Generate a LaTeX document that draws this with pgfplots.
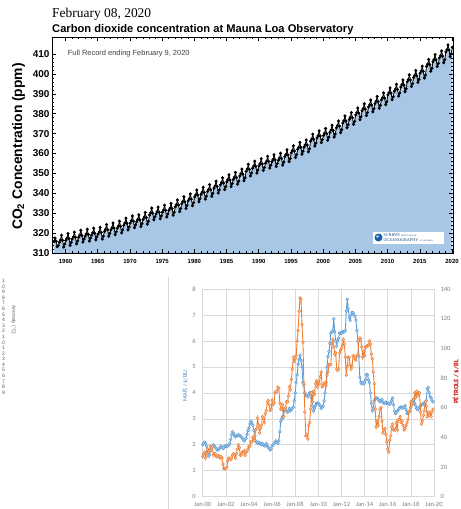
\documentclass[border=0pt]{standalone}
\usepackage{fontspec}
\setmainfont{Liberation Sans}
\newfontfamily\timesfont{Liberation Serif}
\newfontfamily\calibri{Carlito}
\usepackage{pgfplots}
\pgfplotsset{compat=1.18}
\usepackage{pgfplotstable}

\definecolor{co2fill}{RGB}{168,199,231}
\definecolor{mais}{RGB}{91,155,213}
\definecolor{petrole}{RGB}{237,125,49}
\definecolor{gridgray}{RGB}{217,217,217}
\definecolor{ticklab}{RGB}{125,125,125}
\definecolor{redlab}{RGB}{192,0,0}
\definecolor{scrippsblue}{RGB}{20,95,165}

% Mauna Loa CO2, ppm: Jan, Mar, May, Jul, Sep, Nov of each year from 1958
\pgfplotstableread[row sep=\\, header=false]{
nan\\ 315.8\\ 317.5\\ 315.9\\ 313.2\\ 313.8\\
315.4\\ 316.5\\ 318.9\\ 316.3\\ 313.0\\ 314.5\\
316.3\\ 317.4\\ 319.8\\ 317.2\\ 313.9\\ 315.4\\
317.0\\ 318.1\\ 320.5\\ 317.9\\ 314.6\\ 316.1\\
317.9\\ 319.0\\ 321.4\\ 318.8\\ 315.5\\ 317.0\\
318.4\\ 319.5\\ 321.9\\ 319.3\\ 316.0\\ 317.5\\
319.0\\ 320.1\\ 322.5\\ 319.9\\ 316.6\\ 318.1\\
319.4\\ 320.5\\ 322.9\\ 320.3\\ 317.0\\ 318.5\\
320.8\\ 321.9\\ 324.3\\ 321.7\\ 318.4\\ 319.9\\
321.6\\ 322.7\\ 325.1\\ 322.5\\ 319.2\\ 320.7\\
322.5\\ 323.6\\ 326.0\\ 323.4\\ 320.1\\ 321.6\\
324.0\\ 325.1\\ 327.5\\ 324.9\\ 321.6\\ 323.1\\
325.1\\ 326.2\\ 328.6\\ 326.0\\ 322.7\\ 324.2\\
325.7\\ 326.8\\ 329.2\\ 326.6\\ 323.3\\ 324.8\\
326.9\\ 328.0\\ 330.4\\ 327.8\\ 324.5\\ 326.0\\
329.1\\ 330.2\\ 332.6\\ 330.0\\ 326.7\\ 328.2\\
329.6\\ 330.7\\ 333.1\\ 330.5\\ 327.2\\ 328.7\\
330.5\\ 331.6\\ 334.0\\ 331.4\\ 328.1\\ 329.6\\
331.4\\ 332.5\\ 334.9\\ 332.3\\ 329.0\\ 330.5\\
333.2\\ 334.3\\ 336.7\\ 334.1\\ 330.8\\ 332.3\\
334.8\\ 335.9\\ 338.3\\ 335.7\\ 332.4\\ 333.9\\
336.2\\ 337.3\\ 339.7\\ 337.1\\ 333.8\\ 335.3\\
338.2\\ 339.3\\ 341.7\\ 339.1\\ 335.8\\ 337.3\\
339.5\\ 340.6\\ 343.0\\ 340.4\\ 337.1\\ 338.6\\
340.9\\ 342.0\\ 344.4\\ 341.8\\ 338.5\\ 340.0\\
342.6\\ 343.7\\ 346.1\\ 343.5\\ 340.2\\ 341.7\\
344.3\\ 345.4\\ 347.8\\ 345.2\\ 341.9\\ 343.4\\
345.8\\ 346.9\\ 349.3\\ 346.7\\ 343.4\\ 344.9\\
347.0\\ 348.1\\ 350.5\\ 347.9\\ 344.6\\ 346.1\\
348.7\\ 349.8\\ 352.2\\ 349.6\\ 346.3\\ 347.8\\
351.1\\ 352.2\\ 354.6\\ 352.0\\ 348.7\\ 350.2\\
352.6\\ 353.7\\ 356.1\\ 353.5\\ 350.2\\ 351.7\\
353.9\\ 355.0\\ 357.4\\ 354.8\\ 351.5\\ 353.0\\
355.1\\ 356.2\\ 358.6\\ 356.0\\ 352.7\\ 354.2\\
355.9\\ 357.0\\ 359.4\\ 356.8\\ 353.5\\ 355.0\\
356.6\\ 357.7\\ 360.1\\ 357.5\\ 354.2\\ 355.7\\
358.4\\ 359.5\\ 361.9\\ 359.3\\ 356.0\\ 357.5\\
360.4\\ 361.5\\ 363.9\\ 361.3\\ 358.0\\ 359.5\\
362.1\\ 363.2\\ 365.6\\ 363.0\\ 359.7\\ 361.2\\
363.3\\ 364.4\\ 366.8\\ 364.2\\ 360.9\\ 362.4\\
366.2\\ 367.3\\ 369.7\\ 367.1\\ 363.8\\ 365.3\\
367.9\\ 369.0\\ 371.4\\ 368.8\\ 365.5\\ 367.0\\
369.1\\ 370.2\\ 372.6\\ 370.0\\ 366.7\\ 368.2\\
370.7\\ 371.8\\ 374.2\\ 371.6\\ 368.3\\ 369.8\\
372.9\\ 374.0\\ 376.4\\ 373.8\\ 370.5\\ 372.0\\
375.4\\ 376.5\\ 378.9\\ 376.3\\ 373.0\\ 374.5\\
377.1\\ 378.2\\ 380.6\\ 378.0\\ 374.7\\ 376.2\\
379.4\\ 380.5\\ 382.9\\ 380.3\\ 377.0\\ 378.5\\
381.5\\ 382.6\\ 385.0\\ 382.4\\ 379.1\\ 380.6\\
383.4\\ 384.5\\ 386.9\\ 384.3\\ 381.0\\ 382.5\\
385.2\\ 386.3\\ 388.7\\ 386.1\\ 382.8\\ 384.3\\
387.0\\ 388.1\\ 390.5\\ 387.9\\ 384.6\\ 386.1\\
389.5\\ 390.6\\ 393.0\\ 390.4\\ 387.1\\ 388.6\\
391.3\\ 392.4\\ 394.8\\ 392.2\\ 388.9\\ 390.4\\
393.5\\ 394.6\\ 397.0\\ 394.4\\ 391.1\\ 392.6\\
396.1\\ 397.2\\ 399.6\\ 397.0\\ 393.7\\ 395.2\\
398.2\\ 399.3\\ 401.7\\ 399.1\\ 395.8\\ 397.3\\
400.4\\ 401.5\\ 403.9\\ 401.3\\ 398.0\\ 399.5\\
403.8\\ 404.9\\ 407.3\\ 404.7\\ 401.4\\ 402.9\\
406.2\\ 407.3\\ 409.7\\ 407.1\\ 403.8\\ 405.3\\
408.1\\ 409.2\\ 411.6\\ 409.0\\ 405.7\\ 407.2\\
411.1\\ 412.2\\ 414.6\\ 412.0\\ 408.7\\ 410.2\\
413.4\\
}\cotwo

% corn price, $/bu, monthly Jan 2000 - Dec 2019
\pgfplotstableread[row sep=\\, header=false]{
2.00\\ 2.05\\ 2.10\\ 2.05\\ 1.95\\ 1.75\\ 1.55\\ 1.60\\ 1.75\\ 1.90\\ 1.95\\ 2.00\\
1.95\\ 1.90\\ 1.85\\ 1.80\\ 1.80\\ 1.85\\ 1.90\\ 1.95\\ 1.90\\ 1.85\\ 1.90\\ 1.95\\
1.95\\ 1.95\\ 1.95\\ 2.00\\ 2.05\\ 2.20\\ 2.40\\ 2.50\\ 2.45\\ 2.35\\ 2.30\\ 2.35\\
2.35\\ 2.40\\ 2.35\\ 2.35\\ 2.30\\ 2.25\\ 2.20\\ 2.15\\ 2.20\\ 2.25\\ 2.40\\ 2.55\\
2.65\\ 2.80\\ 2.90\\ 2.85\\ 2.75\\ 2.55\\ 2.35\\ 2.15\\ 2.10\\ 2.05\\ 2.10\\ 2.05\\
2.05\\ 2.00\\ 2.05\\ 2.00\\ 1.95\\ 2.00\\ 2.05\\ 1.95\\ 1.90\\ 1.85\\ 1.80\\ 1.85\\
1.95\\ 2.00\\ 2.05\\ 2.10\\ 2.15\\ 2.10\\ 2.05\\ 2.15\\ 2.50\\ 2.90\\ 3.00\\ 3.10\\
3.30\\ 3.40\\ 3.35\\ 3.30\\ 3.25\\ 3.30\\ 3.40\\ 3.30\\ 3.35\\ 3.40\\ 3.45\\ 3.70\\
4.00\\ 4.40\\ 4.70\\ 5.10\\ 5.30\\ 5.45\\ 5.25\\ 5.00\\ 4.40\\ 4.30\\ 4.00\\ 3.90\\
3.90\\ 3.85\\ 3.90\\ 4.00\\ 4.00\\ 3.80\\ 3.50\\ 3.30\\ 3.40\\ 3.50\\ 3.60\\ 3.60\\
3.60\\ 3.55\\ 3.50\\ 3.40\\ 3.45\\ 3.50\\ 3.70\\ 4.00\\ 4.40\\ 5.00\\ 5.40\\ 5.60\\
5.90\\ 6.30\\ 6.35\\ 6.40\\ 6.85\\ 6.35\\ 6.00\\ 5.80\\ 6.00\\ 6.10\\ 6.30\\ 6.30\\
6.30\\ 6.35\\ 6.35\\ 6.35\\ 6.40\\ 7.15\\ 7.60\\ 7.25\\ 6.90\\ 6.80\\ 7.00\\ 7.10\\
7.10\\ 7.00\\ 6.95\\ 6.80\\ 6.40\\ 6.00\\ 5.40\\ 4.60\\ 4.40\\ 4.35\\ 4.40\\ 4.35\\
4.40\\ 4.50\\ 4.70\\ 4.70\\ 4.50\\ 4.40\\ 4.00\\ 3.60\\ 3.30\\ 3.40\\ 3.70\\ 3.80\\
3.80\\ 3.80\\ 3.75\\ 3.70\\ 3.65\\ 3.70\\ 3.75\\ 3.65\\ 3.60\\ 3.60\\ 3.65\\ 3.60\\
3.60\\ 3.60\\ 3.55\\ 3.60\\ 3.70\\ 3.80\\ 3.55\\ 3.30\\ 3.20\\ 3.25\\ 3.30\\ 3.35\\
3.40\\ 3.45\\ 3.45\\ 3.40\\ 3.45\\ 3.45\\ 3.50\\ 3.35\\ 3.20\\ 3.25\\ 3.25\\ 3.30\\
3.45\\ 3.55\\ 3.70\\ 3.75\\ 3.60\\ 3.50\\ 3.40\\ 3.35\\ 3.40\\ 3.45\\ 3.50\\ 3.55\\
3.55\\ 3.60\\ 3.55\\ 3.50\\ 3.70\\ 4.15\\ 4.20\\ 4.00\\ 3.85\\ 3.80\\ 3.70\\ 3.65\\
}\mais

% oil price, $/bl, monthly Jan 2000 - Dec 2019
\pgfplotstableread[row sep=\\, header=false]{
27\\ 29\\ 30\\ 26\\ 29\\ 32\\ 30\\ 31\\ 34\\ 33\\ 34\\ 28\\
29\\ 29\\ 27\\ 27\\ 28\\ 27\\ 26\\ 27\\ 26\\ 22\\ 19\\ 19\\
19\\ 20\\ 24\\ 26\\ 26\\ 25\\ 26\\ 28\\ 29\\ 28\\ 26\\ 29\\
32\\ 35\\ 33\\ 28\\ 28\\ 30\\ 30\\ 31\\ 28\\ 30\\ 31\\ 32\\
34\\ 34\\ 37\\ 37\\ 40\\ 38\\ 41\\ 45\\ 46\\ 53\\ 48\\ 43\\
46\\ 48\\ 54\\ 53\\ 50\\ 56\\ 58\\ 64\\ 65\\ 62\\ 58\\ 59\\
65\\ 62\\ 63\\ 70\\ 71\\ 71\\ 74\\ 73\\ 63\\ 59\\ 59\\ 62\\
54\\ 59\\ 60\\ 64\\ 64\\ 68\\ 74\\ 72\\ 79\\ 86\\ 94\\ 91\\
93\\ 95\\ 105\\ 112\\ 125\\ 134\\ 133\\ 116\\ 104\\ 76\\ 57\\ 41\\
42\\ 39\\ 48\\ 50\\ 59\\ 70\\ 64\\ 71\\ 69\\ 76\\ 78\\ 74\\
78\\ 76\\ 81\\ 84\\ 74\\ 75\\ 76\\ 77\\ 75\\ 82\\ 84\\ 89\\
89\\ 89\\ 103\\ 106\\ 101\\ 96\\ 97\\ 86\\ 85\\ 86\\ 97\\ 99\\
100\\ 102\\ 106\\ 103\\ 94\\ 82\\ 88\\ 94\\ 94\\ 89\\ 86\\ 88\\
95\\ 95\\ 93\\ 92\\ 95\\ 96\\ 105\\ 107\\ 106\\ 101\\ 94\\ 98\\
95\\ 101\\ 101\\ 102\\ 102\\ 105\\ 103\\ 96\\ 93\\ 84\\ 76\\ 59\\
47\\ 51\\ 48\\ 54\\ 59\\ 60\\ 51\\ 43\\ 45\\ 46\\ 42\\ 37\\
32\\ 30\\ 38\\ 41\\ 47\\ 49\\ 45\\ 45\\ 45\\ 50\\ 45\\ 52\\
52\\ 54\\ 50\\ 51\\ 48\\ 45\\ 46\\ 48\\ 50\\ 52\\ 57\\ 58\\
64\\ 62\\ 63\\ 66\\ 70\\ 67\\ 71\\ 68\\ 70\\ 70\\ 57\\ 49\\
51\\ 55\\ 58\\ 64\\ 61\\ 54\\ 57\\ 55\\ 57\\ 54\\ 57\\ 59\\
}\petrole

\begin{document}
\begin{tikzpicture}
\useasboundingbox (0,0) rectangle (461bp,-509bp);

% ---- top: Keeling curve ----
\node[anchor=base west, font=\timesfont\fontsize{13.5}{14}\selectfont, inner sep=0pt] at (52bp,-17.3bp) {February 08, 2020};
\node[anchor=base west, font=\bfseries\fontsize{11.2}{12}\selectfont, inner sep=0pt] at (52bp,-32bp) {Carbon dioxide concentration at Mauna Loa Observatory};
\node[rotate=90, font=\bfseries\fontsize{13.9}{14}\selectfont, inner sep=0pt] at (18.5bp,-146.5bp) {CO\textsubscript{2} Concentration (ppm)};

\begin{axis}[
  at={(52bp,-253bp)}, anchor=south west,
  scale only axis, width=401bp, height=216bp,
  xmin=1957.9, xmax=2020.15, ymin=310, ymax=418.6,
  xtick={1960,1965,...,2020}, minor x tick num=4,
  ytick={310,320,...,410}, minor y tick num=4,
  tick align=inside, major tick length=4bp, minor tick length=2bp,
  axis line style={line width=0.9bp},
  every tick/.style={black, line width=0.6bp},
  /pgf/number format/1000 sep={},
  /pgf/number format/assume math mode=true,
  xticklabel style={font=\bfseries\fontsize{6}{6}\selectfont, yshift=-2.5bp},
  yticklabel style={font=\bfseries\fontsize{10}{10}\selectfont, xshift=1bp},
  axis on top,
]
\addplot[fill=co2fill, draw=none] table[x expr=1958+\coordindex/6+1/24, y index=0] {\cotwo} \closedcycle;
\addplot[black, line width=0.8bp, mark=*, mark size=1.1bp] table[x expr=1958+\coordindex/6+1/24, y index=0] {\cotwo};
\end{axis}

\node[anchor=west, font=\fontsize{7.5}{8}\selectfont, text=black!75, inner sep=0pt] at (67.7bp,-53.3bp) {Full Record ending February 9, 2020};

% Scripps logo
\fill[white] (373bp,-231.5bp) rectangle (444bp,-243.5bp);
\fill[scrippsblue] (378.5bp,-237.5bp) circle (4bp);
\fill[scrippsblue!40!white] (377.5bp,-236.5bp) circle (1.6bp);
\node[anchor=west, font=\timesfont\fontsize{4.2}{4.4}\selectfont, text=scrippsblue!70!black, inner sep=0pt, align=left] at (383.5bp,-237.5bp) {SCRIPPS {\fontsize{2}{2}\selectfont INSTITUTION OF}\\OCEANOGRAPHY {\fontsize{2}{2}\selectfont UC SAN DIEGO}};

% ---- left strip of the page below ----
\node[anchor=north, font=\fontsize{5}{5.6}\selectfont, text=black!65, align=center, inner sep=0pt] at (3.5bp,-279bp)
  {1\\0\\9\\8\\7\\6\\5\\4\\3\\2\\1\\0\\1\\2\\3\\4\\5\\6\\7\\8\\9};
\node[rotate=-90, font=\fontsize{4.8}{5}\selectfont, text=black!65, inner sep=0pt] at (13.5bp,-320bp) {Anomaly (°C)};
\draw[gridgray, line width=0.6bp] (168bp,-277bp) -- (168bp,-509bp);

% ---- bottom: corn and oil ----
\begin{axis}[
  at={(202.7bp,-496.7bp)}, anchor=south west,
  scale only axis, width=231.3bp, height=207.7bp,
  xmin=2000, xmax=2020, ymin=0, ymax=8,
  xtick={2000,2002,...,2020},
  xticklabels={Jan-00,Jan-02,Jan-04,Jan-06,Jan-08,Jan-10,Jan-12,Jan-14,Jan-16,Jan-18,Jan-20},
  ytick={0,1,...,8},
  grid=major, major grid style={gridgray, line width=0.6bp},
  axis line style={draw=none}, major tick length=0pt,
  /pgf/number format/assume math mode=true,
  ticklabel style={font=\calibri\fontsize{6.5}{7}\selectfont, text=ticklab},
  yticklabel style={xshift=-3.5bp},
  xticklabel style={yshift=-2bp},
]
\addplot[mais, line width=0.9bp, mark=*, mark size=1.4bp,
  mark options={fill=mais!35!white, draw=mais, line width=0.5bp}]
  table[x expr=2000+\coordindex/12, y index=0] {\mais};
\end{axis}
\begin{axis}[
  at={(202.7bp,-496.7bp)}, anchor=south west,
  scale only axis, width=231.3bp, height=207.7bp,
  xmin=2000, xmax=2020, ymin=0, ymax=140,
  axis y line*=right, hide x axis,
  ytick={0,20,...,140},
  axis line style={draw=none}, major tick length=0pt,
  /pgf/number format/assume math mode=true,
  ticklabel style={font=\calibri\fontsize{6.5}{7}\selectfont, text=ticklab},
  yticklabel style={xshift=3bp},
]
\addplot[petrole, line width=0.9bp, mark=*, mark size=1.4bp,
  mark options={fill=petrole!35!white, draw=petrole, line width=0.5bp}]
  table[x expr=2000+\coordindex/12, y index=0] {\petrole};
\end{axis}
\node[rotate=90, font=\calibri\fontsize{6.2}{7}\selectfont, text=mais!90!black, inner sep=0pt] at (185bp,-386bp) {MAÏS / \$/BU};
\node[rotate=90, font=\calibri\bfseries\fontsize{6.8}{7}\selectfont, text=redlab, inner sep=0pt] at (456bp,-382bp) {PÉTROLE / \$/BL};
\end{tikzpicture}
\end{document}
